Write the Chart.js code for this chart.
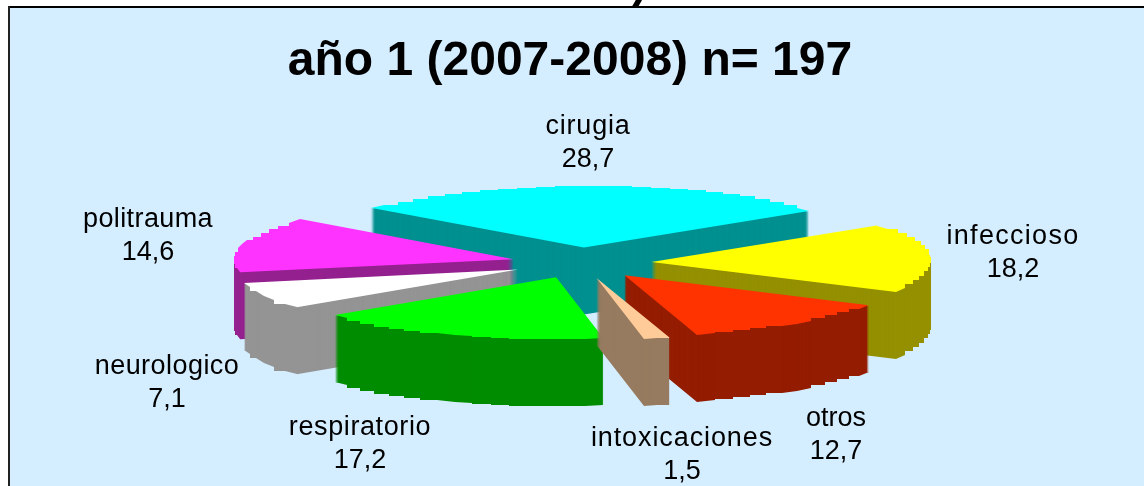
<!DOCTYPE html>
<html>
<head>
<meta charset="utf-8">
<style>
  html, body { margin: 0; padding: 0; background: #fff; overflow: hidden; }
  #wrap { width: 1144px; height: 486px; }
</style>
<script src="https://cdn.jsdelivr.net/npm/chart.js@4/dist/chart.umd.min.js"></script>
</head>
<body>
<div id="wrap"><canvas id="pie3d" width="1144" height="486"></canvas></div>
<script>
const categories = ['cirugia', 'infeccioso', 'otros', 'intoxicaciones', 'respiratorio', 'neurologico', 'politrauma'];
const percentages = [28.7, 18.2, 12.7, 1.5, 17.2, 7.1, 14.6];
const topColors = ['#00ffff', '#ffff00', '#ff3300', '#ffcc99', '#00ff00', '#ffffff', '#ff33ff'];
const sideColors = ['#009090', '#949000', '#941c00', '#967b60', '#008c00', '#949494', '#94218f'];
// label anchor (centre x, first line y) for each slice
const labelSpots = [[588, 127], [1013, 237], [836, 419], [682, 439], [360, 428], [167, 367], [148, 220]];
const labelTracking = [0.8, 1.3, 0, 0.9, 0.6, 0.45, 0.4];

const pieCenter = { x: 581.5, y: 263 };
const pieRadiusX = 280;
const tilt = 0.22;
const explode = 70;
const depth = 67;
const stairStep = (4 * Math.PI) / 180;

// the old 3D pie has stair-stepped rims, so swap ctx.arc for a stepped outline while painting.
// steps land on whole device pixels, otherwise the stacked side layers show streaks.
// first and last segments stay straight: a stair there leaves a thin sliver that smears
function steppedArc(x, y, r, from, to) {
  const m = this.getTransform();
  const count = Math.max(1, Math.round((to - from) / stairStep));
  let lastY = 0;
  for (let n = 0; n <= count; n++) {
    const angle = from + ((to - from) * n) / count;
    const px = (Math.round(m.a * (x + Math.cos(angle) * r) + m.e) - m.e) / m.a;
    const py = (Math.round(m.d * (y + Math.sin(angle) * r) + m.f) - m.f) / m.d;
    if (n > 1 && n < count) this.lineTo(px, lastY);
    this.lineTo(px, py);
    lastY = py;
  }
}

const pie3d = {
  id: 'pie3d',
  beforeDraw(chart) {
    const { ctx, width, height } = chart;
    ctx.save();
    ctx.fillStyle = '#d5eeff';
    ctx.fillRect(8, 6, width - 8, height - 6);
    ctx.fillStyle = '#000';
    ctx.fillRect(8, 6, width - 8, 2);
    ctx.fillStyle = '#222';
    ctx.fillRect(8, 6, 2, height - 6);
    // tail of the cut-off heading above the frame
    ctx.font = 'bold 46px "Liberation Sans"';
    ctx.textAlign = 'center';
    ctx.textBaseline = 'alphabetic';
    ctx.fillStyle = '#000';
    ctx.fillText(')', 640, -4);
    ctx.restore();
  },
  beforeDatasetsDraw(chart) {
    const { ctx } = chart;
    const arcs = chart.getDatasetMeta(0).data;
    const midAngle = (a) => (a.startAngle + a.endAngle) / 2;
    const order = arcs.map((a, i) => i).sort((p, q) => Math.sin(midAngle(arcs[p])) - Math.sin(midAngle(arcs[q])));
    const scaleX = pieRadiusX / arcs[0].outerRadius;

    ctx.arc = steppedArc;
    order.forEach((i) => {
      const arc = arcs[i];
      const mid = midAngle(arc);
      const topOptions = arc.options;
      const sideOptions = { ...topOptions, backgroundColor: sideColors[i] };
      const paint = (drop, options) => {
        ctx.save();
        ctx.translate(pieCenter.x + Math.cos(mid) * explode, pieCenter.y + Math.sin(mid) * explode * tilt + drop);
        ctx.scale(scaleX, scaleX * tilt);
        ctx.translate(-arc.x, -arc.y);
        arc.options = options;
        arc.draw(ctx);
        ctx.restore();
      };
      for (let drop = depth; drop > 0; drop--) paint(drop, sideOptions);
      paint(0, topOptions);
    });
    delete ctx.arc;

    ctx.save();
    ctx.font = '27px "Liberation Sans"';
    ctx.fillStyle = '#000';
    ctx.textAlign = 'center';
    ctx.textBaseline = 'middle';
    categories.forEach((name, i) => {
      const [x, y] = labelSpots[i];
      ctx.letterSpacing = labelTracking[i] + 'px';
      ctx.fillText(name, x, y);
      ctx.letterSpacing = '0px';
      ctx.fillText(String(percentages[i]).replace('.', ','), x, y + 33);
    });
    ctx.restore();
    return false;
  },
};

new Chart(document.getElementById('pie3d').getContext('2d'), {
  type: 'pie',
  data: {
    labels: categories,
    datasets: [{
      data: percentages,
      backgroundColor: topColors,
      borderWidth: 0,
    }],
  },
  options: {
    responsive: false,
    animation: false,
    rotation: -49.66,
    layout: { padding: { right: 4 } },
    events: [],
    plugins: {
      legend: { display: false },
      tooltip: { enabled: false },
      title: {
        display: true,
        text: 'año 1 (2007-2008) n= 197',
        color: '#000',
        font: { family: '"Liberation Sans"', size: 48, weight: 'bold' },
        padding: { top: 33, bottom: 10 },
      },
    },
  },
  plugins: [pie3d],
});
</script>
</body>
</html>
